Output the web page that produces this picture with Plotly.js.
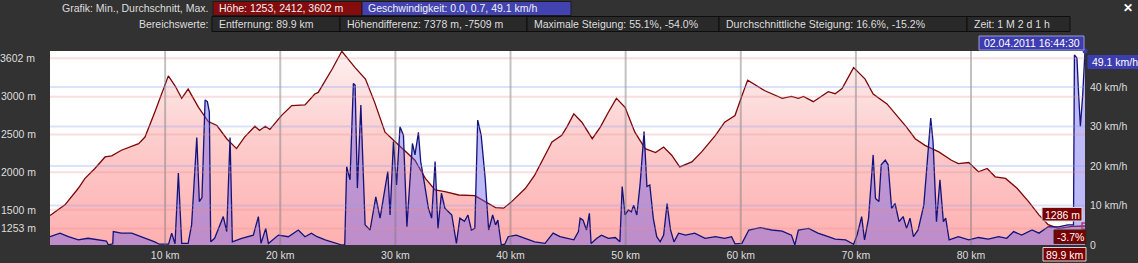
<!DOCTYPE html>
<html>
<head>
<meta charset="utf-8">
<script src="https://cdn.plot.ly/plotly-3.0.1.min.js"></script>
<style>
  html, body { margin: 0; padding: 0; background: #323232; }
  #chart { width: 1138px; height: 263px; }
</style>
</head>
<body>
<div id="chart"></div>
<script>
// ---------- data ----------
const elevKm = [0, 1.3, 2.46, 3.04, 3.9, 4.78, 5.36, 6.2, 7.7, 8.25, 9.1, 9.85, 10.28, 10.86, 11.44, 12.0, 12.9, 13.75, 14.5, 15.35, 16.2, 16.9, 17.8, 18.2, 18.7, 19.1, 20.1, 21.0, 22.15, 23.0, 23.3, 24.5, 25.35, 26.5, 27.4, 28.2, 29.1, 30.0, 30.8, 31.7, 32.6, 33.45, 34.3, 35.5, 36.9, 37.8, 38.7, 39.4, 40.1, 41.3, 42.1, 43.0, 43.6, 44.45, 44.9, 45.5, 46.2, 47.1, 47.8, 48.5, 49.2, 49.95, 50.8, 51.7, 52.6, 53.3, 54.0, 54.7, 55.75, 56.6, 57.8, 58.6, 59.5, 60.1, 60.6, 62.1, 63.6, 64.4, 65.0, 65.45, 66.3, 67.6, 68.2, 68.8, 69.8, 70.8, 71.5, 72.7, 73.55, 74.4, 75.15, 76.0, 77.2, 78.3, 78.9, 79.8, 80.65, 81.4, 82.1, 83.0, 84.0, 85.0, 85.9, 86.7, 87.6, 88.8, 89.9];
const elevM = [1425, 1566, 1786, 1917, 2049, 2201, 2215, 2290, 2378, 2465, 2794, 3101, 3276, 3145, 2978, 3101, 2859, 2671, 2618, 2443, 2312, 2465, 2609, 2553, 2609, 2566, 2750, 2882, 2891, 3036, 3057, 3364, 3602, 3386, 3233, 2925, 2530, 2399, 2289, 2158, 1917, 1763, 1741, 1697, 1688, 1609, 1530, 1522, 1609, 1786, 1961, 2224, 2399, 2487, 2600, 2772, 2662, 2443, 2596, 2794, 2978, 2859, 2530, 2312, 2259, 2333, 2224, 2070, 2136, 2268, 2487, 2662, 2750, 3013, 3220, 3079, 2978, 3004, 2978, 3004, 2934, 3066, 3040, 3109, 3386, 3233, 3036, 2904, 2750, 2596, 2443, 2355, 2268, 2158, 2114, 2128, 2004, 2049, 1938, 1917, 1786, 1609, 1434, 1303, 1253, 1281, 1286];

const speedKm = [0, 0.87, 1.6, 2.46, 3.3, 4.2, 4.9, 5.07, 5.45, 5.5, 6.2, 7.1, 7.97, 9.1, 9.5, 10.3, 10.57, 10.86, 11.15, 11.44, 12.0, 12.3, 12.75, 12.97, 13.2, 13.47, 13.67, 13.84, 13.96, 14.3, 15.05, 15.35, 15.64, 15.84, 16.65, 17.66, 18.1, 18.33, 18.74, 18.97, 19.84, 20.7, 21.57, 22.15, 22.7, 23.2, 23.9, 25.35, 25.6, 25.77, 26.06, 26.35, 26.5, 26.7, 27.0, 27.37, 27.8, 28.3, 28.67, 29.34, 29.54, 29.83, 30.1, 30.4, 30.7, 31.0, 31.48, 31.7, 32.0, 32.2, 32.5, 32.87, 33.15, 33.45, 33.7, 34.0, 34.3, 34.9, 35.3, 35.6, 36.0, 36.3, 36.6, 36.9, 37.15, 37.45, 37.8, 38.1, 38.45, 38.7, 38.9, 39.2, 39.5, 39.8, 40.5, 41.3, 42.1, 43.0, 43.7, 44.3, 45.0, 45.5, 45.9, 46.05, 46.3, 46.6, 46.85, 47.0, 47.5, 47.9, 48.5, 49.1, 49.5, 49.7, 49.95, 50.24, 50.5, 50.7, 50.97, 51.25, 51.6, 51.85, 52.1, 52.4, 52.7, 53.0, 53.3, 53.6, 53.9, 54.2, 54.6, 55.2, 56.0, 56.9, 57.8, 58.6, 59.2, 59.5, 60.1, 60.7, 61.7, 62.7, 63.6, 64.4, 64.7, 65.0, 65.9, 66.7, 67.6, 68.2, 69.1, 69.8, 70.1, 70.5, 70.75, 71.1, 71.5, 71.7, 72.0, 72.2, 72.55, 72.8, 73.1, 73.4, 73.75, 74.1, 74.4, 74.7, 75.0, 75.4, 75.9, 76.2, 76.5, 76.7, 77.0, 77.3, 77.6, 77.8, 78.1, 78.9, 79.8, 80.65, 81.5, 82.4, 83.1, 83.7, 84.4, 85.3, 85.9, 86.7, 87.6, 88.4, 88.9, 88.98, 89.2, 89.35, 89.5, 89.7, 89.9];
const speedKmh = [2.1, 3.0, 2.1, 1.3, 1.7, 1.3, 1.0, 0, 0.3, 3.4, 3.0, 3.0, 2.1, 0.8, 0.2, 0.2, 3.0, 0.3, 18.2, 0.4, 0.4, 5.1, 27.2, 11.0, 12.0, 36.7, 36.3, 33.7, 0.8, 1.7, 7.2, 3.4, 27.2, 0.8, 1.7, 2.5, 7.2, 0.4, 4.2, 0.4, 2.5, 2.1, 3.8, 2.1, 3.0, 2.1, 1.3, 0, 0, 19.8, 16.5, 40.9, 40.5, 14.4, 35.4, 5.1, 3.8, 12.2, 6.8, 18.6, 7.6, 26.2, 15.2, 29.9, 27.8, 4.6, 25.7, 22.8, 28.5, 21.1, 16.0, 9.3, 6.8, 21.1, 4.2, 13.1, 9.3, 7.6, 0.4, 6.8, 6.0, 7.6, 3.8, 4.2, 31.6, 27.8, 16.9, 3.8, 7.6, 5.1, 6.3, 0, 0.2, 2.1, 2.5, 1.7, 0.8, 0.4, 3.0, 2.1, 1.7, 1.3, 3.4, 6.8, 6.3, 3.8, 8.0, 0.4, 1.7, 2.5, 1.7, 1.9, 0.8, 14.8, 7.6, 8.9, 8.4, 10.1, 7.6, 15.2, 28.7, 14.8, 15.2, 6.8, 2.1, 0.8, 2.5, 10.5, 3.8, 0.8, 3.0, 2.5, 3.0, 1.7, 2.1, 1.7, 2.1, 0.3, 0.4, 3.8, 4.4, 3.8, 3.5, 2.5, 0, 3.8, 4.2, 3.0, 2.1, 1.5, 1.3, 0.2, 2.5, 7.2, 1.3, 6.8, 22.8, 11.8, 11.0, 20.3, 21.5, 20.3, 9.3, 10.5, 5.9, 7.2, 4.2, 6.8, 2.1, 3.8, 10.1, 21.9, 32.1, 26.2, 5.9, 16.5, 5.9, 6.8, 1.3, 2.1, 1.3, 1.9, 1.5, 2.1, 1.7, 3.4, 2.5, 3.8, 3.0, 4.6, 4.6, 5.1, 5.1, 48.1, 47.3, 38.0, 30.0, 38.0, 49.1];

const xTickKm = [10, 20, 30, 40, 50, 60, 70, 80];
const elevTicks = [1253, 1500, 2000, 2500, 3000];
const elevMaxTick = 3602;
const speedTicks = [0, 10, 20, 30, 40];

const headerRow1Label = "Grafik: Min., Durchschnitt, Max.";
const headerRow1Boxes = ["Höhe: 1253, 2412, 3602 m", "Geschwindigkeit: 0.0, 0.7, 49.1 km/h"];
const headerRow2Label = "Bereichswerte:";
const headerRow2Boxes = ["Entfernung: 89.9 km", "Höhendifferenz: 7378 m, -7509 m", "Maximale Steigung: 55.1%, -54.0%", "Durchschnittliche Steigung: 16.6%, -15.2%", "Zeit: 1 M 2 d 1 h"];
const cursorTime = "02.04.2011 16:44:30";
const cursorGrade = "-3.7%";

// ---------- layout helpers (pixel -> paper) ----------
const W = 1138, H = 263;
const L = 50, R = 1085, T = 51, B = 245;
const px = x => (x - L) / (R - L);
const py = y => (B - y) / (B - T);
const FONT = "Liberation Sans, Arial, sans-serif";
const FS = 10.5;
const TXT = "#dedede";

const shapes = [];
const annotations = [];

// gridlines drawn above traces (semi-transparent)
xTickKm.forEach(v => shapes.push({type: "line", xref: "x", yref: "paper", x0: v, x1: v, y0: 0, y1: 1,
  line: {color: "rgba(120,120,120,0.45)", width: 2}, layer: "above"}));
elevTicks.forEach(v => shapes.push({type: "line", xref: "paper", yref: "y", x0: 0, x1: 1, y0: v, y1: v,
  line: {color: "rgba(235,140,140,0.28)", width: 2}, layer: "above"}));
shapes.push({type: "line", xref: "paper", yref: "y", ysizemode: "pixel", yanchor: elevMaxTick, x0: 0, x1: 1, y0: -7, y1: -7,
  line: {color: "rgba(235,140,140,0.28)", width: 2}, layer: "above"});
speedTicks.slice(1).forEach(v => shapes.push({type: "line", xref: "paper", yref: "y2", x0: 0, x1: 1, y0: v, y1: v,
  line: {color: "rgba(140,160,240,0.30)", width: 2}, layer: "above"}));

// 3602 m label (max elevation)
annotations.push({xref: "paper", yref: "y", x: 0, y: elevMaxTick, xanchor: "right", yanchor: "middle", xshift: -13, yshift: -7,
  text: elevMaxTick + " m", showarrow: false, font: {family: FONT, size: FS, color: TXT}});

// header
function box(x0, x1, y0, y1, fill, border) {
  shapes.push({type: "rect", xref: "paper", yref: "paper", x0: px(x0), x1: px(x1), y0: py(y1), y1: py(y0),
    fillcolor: fill, line: {color: border, width: 1}, layer: "above"});
}
function label(x, y, text, anchor, opts) {
  annotations.push(Object.assign({xref: "paper", yref: "paper", x: px(x), y: py(y), xanchor: anchor, yanchor: "middle",
    text: text, showarrow: false, font: {family: FONT, size: FS, color: TXT}}, opts || {}));
}
const WHITE = {family: FONT, size: FS, color: "#ffffff"};
// row 1
label(210, 8.5, headerRow1Label, "right");
const r1 = [[213, 362, "#850c0c"], [362, 571, "#4242b0"]];
r1.forEach((b, i) => { box(b[0], b[1], 1.5, 15.5, b[2], "#1a1a1a"); label(b[0] + 4, 8.5, headerRow1Boxes[i], "left", {font: {family: FONT, size: FS, color: "#f2f2f2"}}); });
// row 2
label(210, 23.5, headerRow2Label, "right");
const r2 = [212, 340, 527, 719, 967, 1070];
headerRow2Boxes.forEach((t, i) => { box(r2[i], r2[i + 1], 16.5, 31.5, "#292929", "#0e0e0e"); label(r2[i] + 5, 23.5, t, "left"); });
// close
label(1128, 8, "<b>✕</b>", "center", {font: {family: FONT, size: 12, color: "#ffffff"}});

// cursor boxes
const lastKm = elevKm[elevKm.length - 1];
const lastElev = elevM[elevM.length - 1];
const maxSpeed = Math.max(...speedKmh);
box(979, 1084, 36, 50, "#3d3db0", "#9a9ad8");
label(1031.5, 43, cursorTime, "center", {font: WHITE});
box(1088, 1138, 55.5, 68.5, "#3d3db0", "#3d3db0");
label(1090, 62, maxSpeed.toFixed(1) + " km/h", "left", {font: WHITE});
box(1042, 1082, 207.5, 221, "#7a0000", "#d8d8d8");
label(1062, 214.5, lastElev + " m", "center", {font: WHITE});
box(1054, 1086, 230, 243.5, "#7a0000", "#2a2a2a");
label(1070, 237, cursorGrade, "center", {font: WHITE});
box(1043, 1086, 247.5, 261, "#7a0000", "#d8d8d8");
label(1064.5, 254.5, lastKm.toFixed(1) + " km", "center", {font: WHITE});

// ---------- traces ----------
const traces = [
  {
    x: elevKm, y: elevM, type: "scatter", mode: "lines", yaxis: "y",
    line: {color: "#7d0606", width: 1.3},
    fill: "tozeroy",
    fillgradient: {type: "vertical", start: 1034, stop: 3606,
      colorscale: [[0, "#ffb0b0"], [0.5, "#fdcaca"], [1, "#fdf0f0"]]},
    hoverinfo: "skip"
  },
  {
    x: speedKm, y: speedKmh, type: "scatter", mode: "lines", yaxis: "y2",
    line: {color: "#12127a", width: 1.3},
    fill: "tozeroy", fillcolor: "rgba(100,90,235,0.42)",
    hoverinfo: "skip"
  },
  {
    x: [lastKm], y: [lastElev], type: "scatter", mode: "markers", yaxis: "y",
    marker: {symbol: "square-open", size: 6, color: "#e02020", line: {width: 1.5}},
    hoverinfo: "skip"
  },
  {
    x: [lastKm], y: [speedKmh[speedKmh.length - 1]], type: "scatter", mode: "markers", yaxis: "y2",
    marker: {symbol: "circle", size: 5, color: "#3d3db0"},
    hoverinfo: "skip", cliponaxis: false
  }
];

const layout = {
  width: W, height: H,
  margin: {l: L, r: W - R, t: T, b: H - B, pad: 0},
  paper_bgcolor: "#323232",
  plot_bgcolor: "#ffffff",
  showlegend: false,
  font: {family: FONT, size: FS, color: TXT},
  xaxis: {
    range: [0, lastKm], showgrid: false, zeroline: false, showline: false,
    tickvals: xTickKm, ticktext: xTickKm.map(v => v + " km"), ticks: "", ticklabelstandoff: 2,
    tickfont: {family: FONT, size: FS, color: TXT}, fixedrange: true
  },
  yaxis: {
    range: [1034, 3606], showgrid: false, zeroline: false, showline: false,
    tickvals: elevTicks, ticktext: elevTicks.map(v => v + " m"), ticks: "", ticklabelstandoff: 13,
    tickfont: {family: FONT, size: FS, color: TXT}, fixedrange: true
  },
  yaxis2: {
    overlaying: "y", side: "right", range: [0, maxSpeed],
    showgrid: false, zeroline: false, showline: false,
    tickvals: speedTicks, ticktext: speedTicks.map(v => v === 0 ? "0" : v + " km/h"), ticks: "", ticklabelstandoff: 4,
    tickfont: {family: FONT, size: FS, color: TXT}, fixedrange: true
  },
  shapes: shapes,
  annotations: annotations
};

Plotly.newPlot("chart", traces, layout, {staticPlot: true, displayModeBar: false});
</script>
</body>
</html>
